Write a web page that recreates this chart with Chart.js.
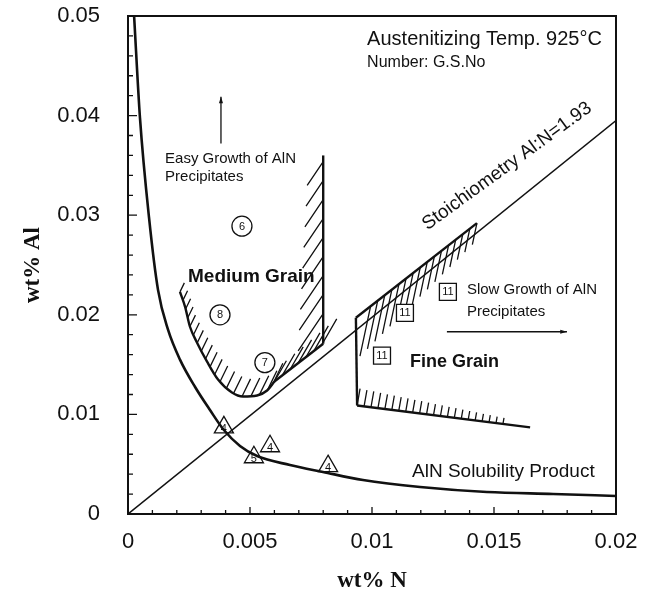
<!DOCTYPE html>
<html>
<head>
<meta charset="utf-8">
<script src="https://cdn.jsdelivr.net/npm/chart.js@4.4.0/dist/chart.umd.min.js"></script>
<style>
body { margin: 0; background: #fff; }
#wrap { width: 654px; height: 600px; }
</style>
</head>
<body>
<div id="wrap"><canvas id="chart" width="654" height="600"></canvas></div>
<script>
// axis ticks
var xTicks = [0, 0.005, 0.01, 0.015, 0.02];
var xTickLabels = ['0', '0.005', '0.01', '0.015', '0.02'];
var yTicks = [0, 0.01, 0.02, 0.03, 0.04, 0.05];
var yTickLabels = ['0', '0.01', '0.02', '0.03', '0.04', '0.05'];

// AlN solubility product (wt% N / wt% Al)
var solubilityN = [0.00025, 0.00049, 0.00086, 0.00123, 0.00164, 0.00213, 0.00275, 0.00336, 0.00393, 0.00459, 0.00529, 0.00664, 0.00799, 0.00963, 0.01197, 0.01471, 0.01742, 0.02];
var solubilityAl = [0.05, 0.0398, 0.0298, 0.0225, 0.0185, 0.0155, 0.01275, 0.01044, 0.00843, 0.00683, 0.00582, 0.00492, 0.00422, 0.00341, 0.00271, 0.00221, 0.00201, 0.00181];

// stoichiometry Al:N line
var stoichN = [0, 0.02];
var stoichAl = [0, 0.0395];

// medium grain boundary
var mediumCurveN = [0.00213, 0.00234, 0.00254, 0.00283, 0.00324, 0.00369, 0.00426, 0.00471, 0.00529, 0.0057, 0.0060];
var mediumCurveAl = [0.0223, 0.0208, 0.0188, 0.0172, 0.0153, 0.0135, 0.0122, 0.0118, 0.0119, 0.0124, 0.0133];
var mediumSlopeN = [0.0060, 0.0080];
var mediumSlopeAl = [0.0133, 0.0171];
var mediumEdgeN = [0.0080, 0.0080];
var mediumEdgeAl = [0.0171, 0.0360];

// fine grain boundary
var fineTopN = [0.0143, 0.00934];
var fineTopAl = [0.0292, 0.0197];
var fineEdgeN = [0.00934, 0.00939];
var fineEdgeAl = [0.0197, 0.0109];
var fineBottomN = [0.00939, 0.01648];
var fineBottomAl = [0.0109, 0.0087];

// grain size numbers
var circleN = [0.00467, 0.00377, 0.00561];
var circleAl = [0.0289, 0.0200, 0.0152];
var circleLabels = ['6', '8', '7'];
var triangleN = [0.00393, 0.00582, 0.00516, 0.0082];
var triangleAl = [0.0087, 0.0068, 0.0057, 0.0048];
var triangleLabels = ['4', '4', '5', '4'];
var squareN = [0.01135, 0.01311, 0.01041];
var squareAl = [0.0202, 0.0223, 0.0159];
var squareLabels = ['11', '11', '11'];

var INK = '#111';
var SANS = '"Liberation Sans", Arial, sans-serif';
var SERIF = '"Liberation Serif", "Times New Roman", serif';

// text notes, anchored in data units
var notes = [
	{text: 'Austenitizing Temp. 925\u00b0C', n: 0.0098, al: 0.0476, font: '20px ' + SANS},
	{text: 'Number: G.S.No', n: 0.0098, al: 0.0453, font: '16px ' + SANS},
	{text: 'Stoichiometry Al:N=1.93', n: 0.01566, al: 0.0345, font: '19px ' + SANS, rot: -36, align: 'center', base: 'alphabetic'},
	{text: 'Easy Growth of AlN', n: 0.00152, al: 0.0357, font: '15px ' + SANS},
	{text: 'Precipitates', n: 0.00152, al: 0.0338, font: '15px ' + SANS},
	{text: 'Medium Grain', n: 0.00246, al: 0.0238, font: 'bold 19px ' + SANS},
	{text: 'Slow Growth of AlN', n: 0.01389, al: 0.0225, font: '15px ' + SANS},
	{text: 'Precipitates', n: 0.01389, al: 0.0203, font: '15px ' + SANS},
	{text: 'Fine Grain', n: 0.01156, al: 0.0153, font: 'bold 18px ' + SANS},
	{text: 'AlN Solubility Product', n: 0.01164, al: 0.0042, font: '19px ' + SANS}
];

var arrows = [
	{n0: 0.00381, al0: 0.0372, n1: 0.00381, al1: 0.0419},
	{n0: 0.01307, al0: 0.0183, n1: 0.01799, al1: 0.0183}
];

function pairs(xs, ys) {
	var out = [];
	for (var i = 0; i < xs.length; i++) {
		out.push({x: xs[i], y: ys[i]});
	}
	return out;
}

function lineSet(xs, ys, width, extra) {
	var ds = {
		data: pairs(xs, ys),
		showLine: true,
		borderColor: INK,
		borderWidth: width,
		pointRadius: 0,
		fill: false
	};
	for (var k in extra) ds[k] = extra[k];
	return ds;
}

function markerSet(xs, ys, style, radius, labels) {
	return {
		data: pairs(xs, ys),
		showLine: false,
		pointStyle: style,
		pointRadius: radius,
		pointBackgroundColor: '#fff',
		pointBorderColor: INK,
		pointBorderWidth: 1.3,
		marks: labels
	};
}

var datasets = [
	lineSet(stoichN, stoichAl, 1.5),
	lineSet(solubilityN, solubilityAl, 2.6, {cubicInterpolationMode: 'monotone'}),
	lineSet(mediumCurveN, mediumCurveAl, 2.4, {cubicInterpolationMode: 'monotone',
		hatch: {angle: 64, gap: 9, len: [10, 22]}}),
	lineSet(mediumSlopeN, mediumSlopeAl, 2.4, {hatch: {angle: 60, gap: 10, len: [24, 30]}}),
	lineSet(mediumEdgeN, mediumEdgeAl, 2.4, {hatch: {angle: 236, gap: 19, len: [48, 28], start: 30}}),
	lineSet(fineTopN, fineTopAl, 2.4, {hatch: {angle: 258, gap: 9, len: [22, 55], to: 0.9}}),
	lineSet(fineEdgeN, fineEdgeAl, 2.4),
	lineSet(fineBottomN, fineBottomAl, 2.4, {hatch: {angle: 80, gap: 7, len: [17, 4], to: 0.85}}),
	markerSet(circleN, circleAl, 'circle', 10, circleLabels),
	markerSet(triangleN, triangleAl, 'triangle', 11, triangleLabels),
	markerSet(squareN, squareAl, 'rect', 12, squareLabels)
];

function drawHatch(ctx, pts, h) {
	var lens = [], total = 0;
	for (var i = 1; i < pts.length; i++) {
		var d = Math.hypot(pts[i].x - pts[i - 1].x, pts[i].y - pts[i - 1].y);
		lens.push(d);
		total += d;
	}
	var a = h.angle * Math.PI / 180;
	var ux = Math.cos(a), uy = -Math.sin(a);
	var end = total * (h.to || 1);
	ctx.beginPath();
	for (var s = h.start || 0; s <= end; s += h.gap) {
		var rest = s, j = 0;
		while (j < lens.length - 1 && rest > lens[j]) {
			rest -= lens[j];
			j++;
		}
		var f = lens[j] ? Math.min(rest / lens[j], 1) : 0;
		var px = pts[j].x + (pts[j + 1].x - pts[j].x) * f;
		var py = pts[j].y + (pts[j + 1].y - pts[j].y) * f;
		var len = h.len[0] + (h.len[1] - h.len[0]) * (s / total);
		ctx.moveTo(px, py);
		ctx.lineTo(px + ux * len, py + uy * len);
	}
	ctx.stroke();
}

var extras = {
	id: 'extras',
	beforeDatasetsDraw: function(chart) {
		var ctx = chart.ctx, area = chart.chartArea;
		ctx.save();
		ctx.beginPath();
		ctx.rect(area.left, area.top, area.right - area.left, area.bottom - area.top);
		ctx.clip();
		ctx.strokeStyle = INK;
		ctx.lineWidth = 1.3;
		chart.data.datasets.forEach(function(ds, i) {
			if (!ds.hatch) return;
			var pts = chart.getDatasetMeta(i).data.map(function(p) { return {x: p.x, y: p.y}; });
			drawHatch(ctx, pts, ds.hatch);
		});
		ctx.restore();
	},
	afterDatasetsDraw: function(chart) {
		var ctx = chart.ctx, area = chart.chartArea;
		var xs = chart.scales.x, ys = chart.scales.y;
		ctx.save();
		ctx.fillStyle = INK;
		ctx.strokeStyle = INK;

		// numbers inside the markers
		ctx.font = '11px ' + SANS;
		ctx.textAlign = 'center';
		ctx.textBaseline = 'middle';
		chart.data.datasets.forEach(function(ds, i) {
			if (!ds.marks) return;
			chart.getDatasetMeta(i).data.forEach(function(p, j) {
				var dy = ds.pointStyle === 'triangle' ? 2 : 0.5;
				ctx.fillText(ds.marks[j], p.x, p.y + dy);
			});
		});

		// notes
		notes.forEach(function(t) {
			ctx.save();
			ctx.translate(xs.getPixelForValue(t.n), ys.getPixelForValue(t.al));
			if (t.rot) ctx.rotate(t.rot * Math.PI / 180);
			ctx.font = t.font;
			ctx.textAlign = t.align || 'left';
			ctx.textBaseline = t.base || 'middle';
			ctx.fillText(t.text, 0, 0);
			ctx.restore();
		});

		// arrows
		ctx.lineWidth = 1.3;
		arrows.forEach(function(ar) {
			var x0 = xs.getPixelForValue(ar.n0), y0 = ys.getPixelForValue(ar.al0);
			var x1 = xs.getPixelForValue(ar.n1), y1 = ys.getPixelForValue(ar.al1);
			var a = Math.atan2(y1 - y0, x1 - x0);
			ctx.beginPath();
			ctx.moveTo(x0, y0);
			ctx.lineTo(x1, y1);
			ctx.stroke();
			ctx.beginPath();
			ctx.moveTo(x1, y1);
			ctx.lineTo(x1 - 7 * Math.cos(a - 0.3), y1 - 7 * Math.sin(a - 0.3));
			ctx.lineTo(x1 - 7 * Math.cos(a + 0.3), y1 - 7 * Math.sin(a + 0.3));
			ctx.closePath();
			ctx.fill();
		});

		// frame
		ctx.lineWidth = 2;
		ctx.strokeRect(area.left, area.top, area.right - area.left, area.bottom - area.top);

		// inward tick marks: every 0.001 on N, every 0.002 on Al
		ctx.lineWidth = 1.3;
		ctx.beginPath();
		for (var k = 1; k < 20; k++) {
			var px = xs.getPixelForValue(k * 0.001);
			ctx.moveTo(px, area.bottom);
			ctx.lineTo(px, area.bottom - (k % 5 === 0 ? 7 : 4));
		}
		for (var m = 1; m < 25; m++) {
			var py = ys.getPixelForValue(m * 0.002);
			ctx.moveTo(area.left, py);
			ctx.lineTo(area.left + (m % 5 === 0 ? 9 : 5), py);
		}
		ctx.stroke();
		ctx.restore();
	}
};

new Chart(document.getElementById('chart'), {
	type: 'scatter',
	data: {datasets: datasets},
	plugins: [extras],
	options: {
		responsive: false,
		animation: false,
		events: [],
		layout: {padding: {left: 0, top: 16, right: 38, bottom: 0}},
		plugins: {legend: {display: false}, tooltip: {enabled: false}},
		scales: {
			x: {
				type: 'linear',
				min: 0,
				max: 0.02,
				grid: {display: false},
				border: {display: false},
				afterBuildTicks: function(scale) {
					scale.ticks = xTicks.map(function(v) { return {value: v}; });
				},
				afterFit: function(scale) {
					scale.height = 86;
					scale.paddingLeft = 0;
					scale.paddingRight = 0;
				},
				ticks: {
					color: INK,
					padding: 7,
					maxRotation: 0,
					font: {family: SANS, size: 22},
					callback: function(v, i) { return xTickLabels[i]; }
				},
				title: {
					display: true,
					text: 'wt% N',
					color: INK,
					padding: {top: 0, bottom: 5},
					font: {family: SERIF, size: 23, weight: 'bold'}
				}
			},
			y: {
				type: 'linear',
				min: 0,
				max: 0.05,
				grid: {display: false},
				border: {display: false},
				afterBuildTicks: function(scale) {
					scale.ticks = yTicks.map(function(v) { return {value: v}; });
				},
				afterFit: function(scale) {
					scale.width = 128;
					scale.paddingTop = 0;
					scale.paddingBottom = 0;
				},
				ticks: {
					color: INK,
					padding: 20,
					font: {family: SANS, size: 22},
					callback: function(v, i) { return yTickLabels[i]; }
				},
				title: {
					display: true,
					text: 'wt% Al',
					color: INK,
					padding: {top: 19, bottom: 0},
					font: {family: SERIF, size: 23, weight: 'bold'}
				}
			}
		}
	}
});
</script>
</body>
</html>
